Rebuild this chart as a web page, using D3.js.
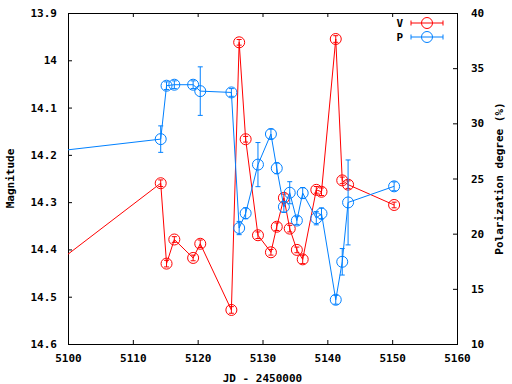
<!DOCTYPE html>
<html>
<head>
<meta charset="utf-8">
<script src="https://cdn.jsdelivr.net/npm/d3@7"></script>
<style>
  body { margin: 0; background: #fff; }
  text { font-family: "DejaVu Sans Mono", "Liberation Mono", monospace; font-weight: bold; font-size: 11px; fill: #000; }
</style>
</head>
<body>
<div id="chart"></div>
<script>
// Julian dates (JD - 2450000), first point lies left of the plotted range
const jd = [5090, 5114.3, 5115.2, 5116.4, 5119.3, 5120.4, 5125.2, 5126.4, 5127.4, 5129.3, 5131.3,
    5132.2, 5133.3, 5134.2, 5135.3, 5136.2, 5138.3, 5139.1, 5141.3, 5142.3, 5143.2, 5150.3];

// V magnitude and its errors
const vMag = [14.515, 14.260, 14.430, 14.379, 14.418, 14.388, 14.528, 13.962, 14.167, 14.370, 14.406,
    14.352, 14.291, 14.356, 14.401, 14.421, 14.274, 14.278, 13.955, 14.254, 14.263, 14.306];
const vErr = [0.007, 0.007, 0.007, 0.006, 0.006, 0.008, 0.007, 0.006, 0.006, 0.007, 0.006,
    0.008, 0.008, 0.007, 0.006, 0.009, 0.007, 0.008, 0.007, 0.007, 0.008, 0.006];

// Polarization degree (%) and its errors
const pDeg = [26.92, 28.57, 33.41, 33.50, 33.50, 32.92, 32.80, 20.51, 21.85, 26.26, 29.03,
    25.93, 22.43, 23.71, 21.19, 23.68, 21.40, 21.83, 14.01, 17.45, 22.83, 24.29];
const pErr = [0.4, 1.2, 0.35, 0.35, 0.35, 2.2, 0.35, 0.6, 0.5, 2.0, 0.45,
    0.5, 0.5, 1.0, 0.35, 0.5, 0.6, 0.5, 0.4, 1.2, 3.85, 0.4];

const xTicks = [5100, 5110, 5120, 5130, 5140, 5150, 5160];
const yTicks = [13.9, 14, 14.1, 14.2, 14.3, 14.4, 14.5, 14.6];
const y2Ticks = [10, 15, 20, 25, 30, 35, 40];

const seriesNames = ["V", "P"];
const colors = ["#ff0000", "#0080ff"];

// Plot area in page pixels
const margin = { top: 13, right: 55, bottom: 40, left: 68 },
    W = 512, H = 384,
    width = W - margin.left - margin.right,
    height = H - margin.top - margin.bottom;

const svg = d3.select("#chart")
    .append("svg")
    .attr("width", W)
    .attr("height", H)
    .append("g")
    .attr("transform", `translate(${margin.left},${margin.top})`);

const x = d3.scaleLinear().domain([5100, 5160]).range([0, width]);
const y = d3.scaleLinear().domain([13.9, 14.6]).range([0, height]);   // magnitude, inverted
const y2 = d3.scaleLinear().domain([10, 40]).range([height, 0]);

svg.append("clipPath").attr("id", "clip")
    .append("rect").attr("width", width).attr("height", height);

// Axes with inward ticks
const tickLen = 4;
function styleAxis(g) {
    g.select(".domain").remove();
    g.selectAll("line").attr("stroke", "#000");
}

svg.append("g")
    .attr("transform", `translate(0,${height})`)
    .call(d3.axisBottom(x).tickValues(xTicks).tickSizeInner(-tickLen).tickSizeOuter(0).tickPadding(10).tickFormat(d3.format("d")))
    .call(styleAxis);

svg.append("g")
    .call(d3.axisTop(x).tickValues(xTicks).tickSizeInner(-tickLen).tickSizeOuter(0).tickFormat(""))
    .call(styleAxis);

svg.append("g")
    .call(d3.axisLeft(y).tickValues(yTicks).tickSizeInner(-tickLen).tickSizeOuter(0).tickPadding(11).tickFormat(d => d3.format("")(+d.toFixed(1))))
    .call(styleAxis);

svg.append("g")
    .attr("transform", `translate(${width},0)`)
    .call(d3.axisRight(y2).tickValues(y2Ticks).tickSizeInner(-tickLen).tickSizeOuter(0).tickPadding(14).tickFormat(d3.format("d")))
    .call(styleAxis);

svg.selectAll(".tick text").attr("fill", "#000").style("font-size", "11px");

// Border
svg.append("rect")
    .attr("width", width).attr("height", height)
    .attr("fill", "none").attr("stroke", "#000").attr("stroke-width", 1)
    .attr("shape-rendering", "crispEdges");

// Axis titles
svg.append("text")
    .attr("text-anchor", "middle")
    .attr("x", width / 2)
    .attr("y", height + 38)
    .text("JD - 2450000");

svg.append("text")
    .attr("text-anchor", "middle")
    .attr("transform", `translate(${-54},${height / 2}) rotate(-90)`)
    .text("Magnitude");

svg.append("text")
    .attr("text-anchor", "middle")
    .attr("transform", `translate(${width + 46},${height / 2}) rotate(-90)`)
    .text("Polarization degree (%)");

// Series drawing
const series = [
    { name: seriesNames[0], vals: vMag, errs: vErr, scale: y, color: colors[0] },
    { name: seriesNames[1], vals: pDeg, errs: pErr, scale: y2, color: colors[1] }
];

const plot = svg.append("g").attr("clip-path", "url(#clip)");
const r = 5.5, cap = 2.5;

series.forEach(s => {
    const pts = jd.map((t, i) => ({ t, v: s.vals[i], e: s.errs[i] }));

    plot.append("path")
        .datum(pts)
        .attr("fill", "none")
        .attr("stroke", s.color)
        .attr("stroke-width", 1)
        .attr("d", d3.line().x(d => x(d.t)).y(d => s.scale(d.v)));

    const g = plot.append("g").attr("stroke", s.color).attr("fill", "none").attr("stroke-width", 1);
    const pt = g.selectAll("g").data(pts).enter().append("g");

    pt.append("line")
        .attr("x1", d => x(d.t)).attr("x2", d => x(d.t))
        .attr("y1", d => s.scale(d.v - d.e)).attr("y2", d => s.scale(d.v + d.e));
    pt.append("line")
        .attr("x1", d => x(d.t) - cap).attr("x2", d => x(d.t) + cap)
        .attr("y1", d => s.scale(d.v - d.e)).attr("y2", d => s.scale(d.v - d.e));
    pt.append("line")
        .attr("x1", d => x(d.t) - cap).attr("x2", d => x(d.t) + cap)
        .attr("y1", d => s.scale(d.v + d.e)).attr("y2", d => s.scale(d.v + d.e));
    pt.append("circle")
        .attr("cx", d => x(d.t)).attr("cy", d => s.scale(d.v))
        .attr("r", r);
});

// Legend
const legend = svg.append("g").attr("transform", `translate(${width - 46}, 10)`);
series.forEach((s, i) => {
    const row = legend.append("g").attr("transform", `translate(0,${i * 14})`);
    row.append("text")
        .attr("x", -8).attr("y", 4)
        .attr("text-anchor", "end")
        .text(s.name);
    row.append("line").attr("x1", 0).attr("x2", 32).attr("y1", 0).attr("y2", 0).attr("stroke", s.color);
    row.append("line").attr("x1", 0).attr("x2", 0).attr("y1", -2.5).attr("y2", 2.5).attr("stroke", s.color);
    row.append("line").attr("x1", 32).attr("x2", 32).attr("y1", -2.5).attr("y2", 2.5).attr("stroke", s.color);
    row.append("circle").attr("cx", 16).attr("cy", 0).attr("r", r).attr("fill", "none").attr("stroke", s.color);
});
</script>
</body>
</html>
